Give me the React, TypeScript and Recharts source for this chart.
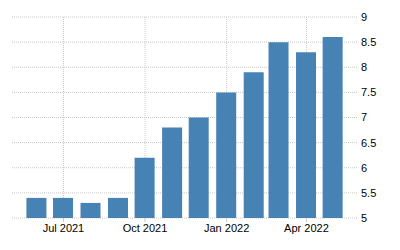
import { Bar, BarChart, CartesianGrid, XAxis, YAxis } from "recharts";

const COLOR = "#4682b4";
const GRID = "#c8c8c8";
const FONT = "'Liberation Sans', Arial, sans-serif";

// monthly values, Jun 2021 .. May 2022
const months = [
  "2021-06", "2021-07", "2021-08", "2021-09", "2021-10", "2021-11",
  "2021-12", "2022-01", "2022-02", "2022-03", "2022-04", "2022-05",
];
const values = [5.4, 5.4, 5.3, 5.4, 6.2, 6.8, 7.0, 7.5, 7.9, 8.5, 8.3, 8.6];

const tickMonths = ["2021-07", "2021-10", "2022-01", "2022-04"];
const tickLabels = ["Jul 2021", "Oct 2021", "Jan 2022", "Apr 2022"];
const yTicks = [5, 5.5, 6, 6.5, 7, 7.5, 8, 8.5, 9];

const DAY = 86400000;

function toTs(m: string): number {
  const [y, mo] = m.split("-").map(Number);
  return Date.UTC(y, mo - 1, 1);
}

const data = months.map((m, i) => ({ t: toTs(m), v: values[i] }));
const xTicks = tickMonths.map(toTs);
const xDomain = [toTs("2021-06") - 28 * DAY, toTs("2022-05") + 27 * DAY];

function fmtX(t: number): string {
  const i = xTicks.indexOf(t);
  return i >= 0 ? tickLabels[i] : "";
}

export default function App() {
  return (
    <div style={{ position: "fixed", left: 0, top: 0, width: 400, height: 250, background: "#fff" }}>
      <BarChart
        width={400}
        height={250}
        data={data}
        margin={{ top: 17, right: 0, bottom: 12, left: 12 }}
        barSize={20}
      >
        <CartesianGrid stroke={GRID} strokeDasharray="1 1" syncWithTicks />
        <XAxis
          dataKey="t"
          type="number"
          scale="time"
          domain={xDomain}
          ticks={xTicks}
          tickFormatter={fmtX}
          allowDataOverflow
          axisLine={false}
          tickLine={{ stroke: GRID }}
          tickSize={4}
          tickMargin={2}
          height={20}
          tick={{ fill: "#000", fontSize: 11, fontFamily: FONT }}
        />
        <YAxis
          orientation="right"
          domain={[5, 9]}
          ticks={yTicks}
          allowDataOverflow
          axisLine={false}
          tickLine={false}
          tickSize={0}
          tickMargin={4}
          width={43}
          tick={{ fill: "#000", fontSize: 11, fontFamily: FONT, textAnchor: "start" }}
        />
        <Bar dataKey="v" fill={COLOR} isAnimationActive={false} />
      </BarChart>
    </div>
  );
}
